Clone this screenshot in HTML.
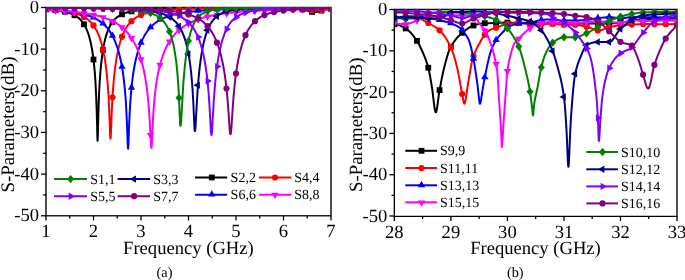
<!DOCTYPE html><html><head><meta charset="utf-8"><style>html,body{margin:0;padding:0;background:#fff;}svg{display:block;will-change:transform;text-rendering:geometricPrecision;}</style></head><body>
<svg width="685" height="280" viewBox="0 0 685 280" font-family='"Liberation Serif", serif' font-size="18.6" fill="#000">
<defs>
<clipPath id="cl"><rect x="46.8" y="6.9" width="283.4" height="208.0"/></clipPath>
<clipPath id="cr"><rect x="395.05" y="8.7" width="281.25" height="206.8"/></clipPath>
</defs>
<path d="M46.0,7.5H331.0V215.7H46.0Z" fill="none" stroke="#222" stroke-width="1.6"/>
<line x1="41.00" y1="7.50" x2="46.0" y2="7.50" stroke="#000" stroke-width="1.3"/>
<text x="39.10" y="13.10" text-anchor="end">0</text>
<line x1="43.20" y1="28.32" x2="46.0" y2="28.32" stroke="#000" stroke-width="1.3"/>
<line x1="41.00" y1="49.15" x2="46.0" y2="49.15" stroke="#000" stroke-width="1.3"/>
<text x="39.10" y="54.75" text-anchor="end">-10</text>
<line x1="43.20" y1="69.97" x2="46.0" y2="69.97" stroke="#000" stroke-width="1.3"/>
<line x1="41.00" y1="90.80" x2="46.0" y2="90.80" stroke="#000" stroke-width="1.3"/>
<text x="39.10" y="96.40" text-anchor="end">-20</text>
<line x1="43.20" y1="111.62" x2="46.0" y2="111.62" stroke="#000" stroke-width="1.3"/>
<line x1="41.00" y1="132.45" x2="46.0" y2="132.45" stroke="#000" stroke-width="1.3"/>
<text x="39.10" y="138.05" text-anchor="end">-30</text>
<line x1="43.20" y1="153.28" x2="46.0" y2="153.28" stroke="#000" stroke-width="1.3"/>
<line x1="41.00" y1="174.10" x2="46.0" y2="174.10" stroke="#000" stroke-width="1.3"/>
<text x="39.10" y="179.70" text-anchor="end">-40</text>
<line x1="43.20" y1="194.93" x2="46.0" y2="194.93" stroke="#000" stroke-width="1.3"/>
<line x1="41.00" y1="215.75" x2="46.0" y2="215.75" stroke="#000" stroke-width="1.3"/>
<text x="39.10" y="221.35" text-anchor="end">-50</text>
<line x1="46.00" y1="215.7" x2="46.00" y2="220.50" stroke="#000" stroke-width="1.3"/>
<text x="46.00" y="237.2" text-anchor="middle">1</text>
<line x1="93.50" y1="215.7" x2="93.50" y2="220.50" stroke="#000" stroke-width="1.3"/>
<text x="93.50" y="237.2" text-anchor="middle">2</text>
<line x1="141.00" y1="215.7" x2="141.00" y2="220.50" stroke="#000" stroke-width="1.3"/>
<text x="141.00" y="237.2" text-anchor="middle">3</text>
<line x1="188.50" y1="215.7" x2="188.50" y2="220.50" stroke="#000" stroke-width="1.3"/>
<text x="188.50" y="237.2" text-anchor="middle">4</text>
<line x1="236.00" y1="215.7" x2="236.00" y2="220.50" stroke="#000" stroke-width="1.3"/>
<text x="236.00" y="237.2" text-anchor="middle">5</text>
<line x1="283.50" y1="215.7" x2="283.50" y2="220.50" stroke="#000" stroke-width="1.3"/>
<text x="283.50" y="237.2" text-anchor="middle">6</text>
<line x1="331.00" y1="215.7" x2="331.00" y2="220.50" stroke="#000" stroke-width="1.3"/>
<text x="331.00" y="237.2" text-anchor="middle">7</text>
<line x1="69.75" y1="215.7" x2="69.75" y2="218.50" stroke="#000" stroke-width="1.3"/>
<line x1="117.25" y1="215.7" x2="117.25" y2="218.50" stroke="#000" stroke-width="1.3"/>
<line x1="164.75" y1="215.7" x2="164.75" y2="218.50" stroke="#000" stroke-width="1.3"/>
<line x1="212.25" y1="215.7" x2="212.25" y2="218.50" stroke="#000" stroke-width="1.3"/>
<line x1="259.75" y1="215.7" x2="259.75" y2="218.50" stroke="#000" stroke-width="1.3"/>
<line x1="307.25" y1="215.7" x2="307.25" y2="218.50" stroke="#000" stroke-width="1.3"/>
<text x="188.40" y="253.9" text-anchor="middle" font-size="18.6">Frequency (GHz)</text>
<text transform="translate(13.60,192.60) rotate(-90)" x="0" y="0" font-size="19">S-Parameters(dB)</text>
<text x="164.50" y="276.6" text-anchor="middle" font-size="14.3">(a)</text>
<path d="M394.35,9.5H677.0V216.3H394.35Z" fill="none" stroke="#000" stroke-width="1.35"/>
<line x1="389.35" y1="9.50" x2="394.35" y2="9.50" stroke="#000" stroke-width="1.3"/>
<text x="387.30" y="15.10" text-anchor="end">0</text>
<line x1="391.55" y1="30.15" x2="394.35" y2="30.15" stroke="#000" stroke-width="1.3"/>
<line x1="389.35" y1="50.80" x2="394.35" y2="50.80" stroke="#000" stroke-width="1.3"/>
<text x="387.30" y="56.40" text-anchor="end">-10</text>
<line x1="391.55" y1="71.45" x2="394.35" y2="71.45" stroke="#000" stroke-width="1.3"/>
<line x1="389.35" y1="92.10" x2="394.35" y2="92.10" stroke="#000" stroke-width="1.3"/>
<text x="387.30" y="97.70" text-anchor="end">-20</text>
<line x1="391.55" y1="112.75" x2="394.35" y2="112.75" stroke="#000" stroke-width="1.3"/>
<line x1="389.35" y1="133.40" x2="394.35" y2="133.40" stroke="#000" stroke-width="1.3"/>
<text x="387.30" y="139.00" text-anchor="end">-30</text>
<line x1="391.55" y1="154.05" x2="394.35" y2="154.05" stroke="#000" stroke-width="1.3"/>
<line x1="389.35" y1="174.70" x2="394.35" y2="174.70" stroke="#000" stroke-width="1.3"/>
<text x="387.30" y="180.30" text-anchor="end">-40</text>
<line x1="391.55" y1="195.35" x2="394.35" y2="195.35" stroke="#000" stroke-width="1.3"/>
<line x1="389.35" y1="216.00" x2="394.35" y2="216.00" stroke="#000" stroke-width="1.3"/>
<text x="387.30" y="221.60" text-anchor="end">-50</text>
<line x1="394.35" y1="216.3" x2="394.35" y2="221.10" stroke="#000" stroke-width="1.3"/>
<text x="394.35" y="237.6" text-anchor="middle">28</text>
<line x1="450.88" y1="216.3" x2="450.88" y2="221.10" stroke="#000" stroke-width="1.3"/>
<text x="450.88" y="237.6" text-anchor="middle">29</text>
<line x1="507.41" y1="216.3" x2="507.41" y2="221.10" stroke="#000" stroke-width="1.3"/>
<text x="507.41" y="237.6" text-anchor="middle">30</text>
<line x1="563.94" y1="216.3" x2="563.94" y2="221.10" stroke="#000" stroke-width="1.3"/>
<text x="563.94" y="237.6" text-anchor="middle">31</text>
<line x1="620.47" y1="216.3" x2="620.47" y2="221.10" stroke="#000" stroke-width="1.3"/>
<text x="620.47" y="237.6" text-anchor="middle">32</text>
<line x1="677.00" y1="216.3" x2="677.00" y2="221.10" stroke="#000" stroke-width="1.3"/>
<text x="677.00" y="237.6" text-anchor="middle">33</text>
<line x1="422.62" y1="216.3" x2="422.62" y2="219.10" stroke="#000" stroke-width="1.3"/>
<line x1="479.14" y1="216.3" x2="479.14" y2="219.10" stroke="#000" stroke-width="1.3"/>
<line x1="535.67" y1="216.3" x2="535.67" y2="219.10" stroke="#000" stroke-width="1.3"/>
<line x1="592.20" y1="216.3" x2="592.20" y2="219.10" stroke="#000" stroke-width="1.3"/>
<line x1="648.74" y1="216.3" x2="648.74" y2="219.10" stroke="#000" stroke-width="1.3"/>
<text x="535.50" y="254.1" text-anchor="middle" font-size="18.6">Frequency (GHz)</text>
<text transform="translate(362.00,191.90) rotate(-90)" x="0" y="0" font-size="18.75">S-Parameters(dB)</text>
<text x="515.30" y="276.6" text-anchor="middle" font-size="14.3">(b)</text>
<g clip-path="url(#cl)"><path d="M46.00,9.33L51.13,9.73L55.59,10.20L59.59,10.74L63.20,11.38L66.42,12.13L69.28,12.97L71.84,13.93L74.21,15.05L76.30,16.28L78.30,17.73L80.10,19.35L81.81,21.23L83.34,23.27L84.76,25.58L86.09,28.18L87.33,31.07L88.47,34.27L89.61,38.10L90.56,41.91L91.50,46.45L92.26,50.75L93.03,55.85L93.69,61.15L94.35,67.54L94.93,74.21L95.40,80.97L96.16,95.40L96.73,111.37L97.39,137.46L97.49,139.90L97.59,140.79L97.68,139.91L97.78,137.49L98.35,114.66L98.73,102.51L99.20,91.06L99.77,80.73L100.44,71.56L101.29,62.53L102.24,54.80L103.38,47.60L104.04,44.14L104.71,41.10L105.47,38.06L106.23,35.38L106.99,33.03L107.84,30.69L108.80,28.43L109.75,26.46L110.79,24.57L111.93,22.79L113.07,21.26L114.30,19.83L115.64,18.51L116.96,17.38L118.48,16.28L120.10,15.28L121.62,14.49L123.24,13.77L124.94,13.11L126.75,12.52L128.75,11.97L130.83,11.48L135.49,10.64L141.00,9.94L147.46,9.38L155.06,8.94L164.28,8.58L174.44,8.33L186.70,8.13L219.28,7.87L260.41,7.83L274.10,7.91L283.88,8.07L289.01,8.23L293.19,8.44L296.80,8.71L299.84,9.05L302.40,9.46L304.78,9.95L311.81,11.89L313.14,12.11L314.38,12.18L315.70,12.10L317.22,11.82L322.64,10.27L325.40,9.62L328.06,9.15L331.00,8.77" fill="none" stroke="#000000" stroke-width="2.0" stroke-linejoin="round"/>
<rect x="43.10" y="6.43" width="5.80" height="5.80" fill="#000000"/>
<rect x="52.60" y="7.28" width="5.80" height="5.80" fill="#000000"/>
<rect x="62.10" y="8.87" width="5.80" height="5.80" fill="#000000"/>
<rect x="71.60" y="12.30" width="5.80" height="5.80" fill="#000000"/>
<rect x="81.10" y="21.40" width="5.80" height="5.80" fill="#000000"/>
<rect x="90.60" y="56.64" width="5.80" height="5.80" fill="#000000"/>
<rect x="100.10" y="46.90" width="5.80" height="5.80" fill="#000000"/>
<rect x="109.60" y="19.10" width="5.80" height="5.80" fill="#000000"/>
<rect x="119.10" y="11.41" width="5.80" height="5.80" fill="#000000"/>
<rect x="128.60" y="8.44" width="5.80" height="5.80" fill="#000000"/>
<rect x="138.10" y="7.04" width="5.80" height="5.80" fill="#000000"/>
<rect x="147.60" y="6.28" width="5.80" height="5.80" fill="#000000"/>
<rect x="157.10" y="5.83" width="5.80" height="5.80" fill="#000000"/>
<rect x="166.60" y="5.54" width="5.80" height="5.80" fill="#000000"/>
<rect x="176.10" y="5.34" width="5.80" height="5.80" fill="#000000"/>
<rect x="185.60" y="5.21" width="5.80" height="5.80" fill="#000000"/>
<rect x="195.10" y="5.11" width="5.80" height="5.80" fill="#000000"/>
<rect x="204.60" y="5.04" width="5.80" height="5.80" fill="#000000"/>
<rect x="214.10" y="4.98" width="5.80" height="5.80" fill="#000000"/>
<rect x="223.60" y="4.95" width="5.80" height="5.80" fill="#000000"/>
<rect x="233.10" y="4.92" width="5.80" height="5.80" fill="#000000"/>
<rect x="242.60" y="4.91" width="5.80" height="5.80" fill="#000000"/>
<rect x="252.10" y="4.92" width="5.80" height="5.80" fill="#000000"/>
<rect x="261.60" y="4.94" width="5.80" height="5.80" fill="#000000"/>
<rect x="271.10" y="5.01" width="5.80" height="5.80" fill="#000000"/>
<rect x="280.60" y="5.16" width="5.80" height="5.80" fill="#000000"/>
<rect x="290.10" y="5.52" width="5.80" height="5.80" fill="#000000"/>
<rect x="299.60" y="6.57" width="5.80" height="5.80" fill="#000000"/>
<rect x="309.10" y="9.03" width="5.80" height="5.80" fill="#000000"/>
<rect x="318.60" y="7.69" width="5.80" height="5.80" fill="#000000"/>
<rect x="328.10" y="5.87" width="5.80" height="5.80" fill="#000000"/>
<path d="M46.00,9.37L52.17,9.78L57.69,10.26L62.53,10.81L66.90,11.45L70.89,12.21L74.40,13.06L77.63,14.06L80.48,15.15L83.15,16.42L85.62,17.88L87.90,19.53L89.99,21.38L91.88,23.41L93.69,25.73L95.40,28.37L96.92,31.17L98.44,34.50L99.77,37.97L101.10,42.08L102.24,46.26L103.28,50.78L104.33,56.14L105.19,61.35L106.04,67.55L106.71,73.31L107.28,79.13L107.84,86.04L108.32,92.95L108.80,101.31L109.18,109.41L110.12,134.65L110.32,137.93L110.41,138.63L110.51,138.66L110.70,137.10L110.89,133.64L111.74,112.27L112.31,100.64L112.88,91.40L113.54,82.74L114.40,73.88L115.44,65.35L116.68,57.41L118.01,50.61L118.77,47.33L119.62,44.04L120.48,41.13L121.34,38.53L122.28,35.95L123.33,33.43L124.38,31.20L125.52,29.05L126.75,27.01L127.98,25.21L129.31,23.51L130.64,22.03L132.17,20.55L133.69,19.26L135.30,18.08L137.01,16.99L138.62,16.11L140.33,15.29L142.14,14.53L144.13,13.81L146.22,13.17L148.41,12.58L150.79,12.04L153.35,11.55L158.95,10.70L165.51,10.01L173.11,9.44L182.04,9.00L198.47,8.50L219.95,8.17L248.35,8.01L273.14,8.06L285.31,8.24L294.52,8.56L301.64,9.01L312.38,9.99L316.66,10.16L318.94,10.11L321.41,9.96L331.00,9.04" fill="none" stroke="#FF0000" stroke-width="2.0" stroke-linejoin="round"/>
<circle cx="46.00" cy="9.37" r="3.10" fill="#FF0000"/>
<circle cx="55.50" cy="10.05" r="3.10" fill="#FF0000"/>
<circle cx="65.00" cy="11.15" r="3.10" fill="#FF0000"/>
<circle cx="74.50" cy="13.09" r="3.10" fill="#FF0000"/>
<circle cx="84.00" cy="16.89" r="3.10" fill="#FF0000"/>
<circle cx="93.50" cy="25.46" r="3.10" fill="#FF0000"/>
<circle cx="103.00" cy="49.47" r="3.10" fill="#FF0000"/>
<circle cx="112.50" cy="97.33" r="3.10" fill="#FF0000"/>
<circle cx="122.00" cy="36.69" r="3.10" fill="#FF0000"/>
<circle cx="131.50" cy="21.17" r="3.10" fill="#FF0000"/>
<circle cx="141.00" cy="15.00" r="3.10" fill="#FF0000"/>
<circle cx="150.50" cy="12.10" r="3.10" fill="#FF0000"/>
<circle cx="160.00" cy="10.57" r="3.10" fill="#FF0000"/>
<circle cx="169.50" cy="9.68" r="3.10" fill="#FF0000"/>
<circle cx="179.00" cy="9.13" r="3.10" fill="#FF0000"/>
<circle cx="188.50" cy="8.76" r="3.10" fill="#FF0000"/>
<circle cx="198.00" cy="8.51" r="3.10" fill="#FF0000"/>
<circle cx="207.50" cy="8.33" r="3.10" fill="#FF0000"/>
<circle cx="217.00" cy="8.21" r="3.10" fill="#FF0000"/>
<circle cx="226.50" cy="8.12" r="3.10" fill="#FF0000"/>
<circle cx="236.00" cy="8.05" r="3.10" fill="#FF0000"/>
<circle cx="245.50" cy="8.01" r="3.10" fill="#FF0000"/>
<circle cx="255.00" cy="8.00" r="3.10" fill="#FF0000"/>
<circle cx="264.50" cy="8.01" r="3.10" fill="#FF0000"/>
<circle cx="274.00" cy="8.07" r="3.10" fill="#FF0000"/>
<circle cx="283.50" cy="8.21" r="3.10" fill="#FF0000"/>
<circle cx="293.00" cy="8.49" r="3.10" fill="#FF0000"/>
<circle cx="302.50" cy="9.09" r="3.10" fill="#FF0000"/>
<circle cx="312.00" cy="9.97" r="3.10" fill="#FF0000"/>
<circle cx="321.50" cy="9.95" r="3.10" fill="#FF0000"/>
<circle cx="331.00" cy="9.04" r="3.10" fill="#FF0000"/>
<path d="M46.00,9.69L53.88,10.15L60.82,10.69L67.00,11.31L72.60,12.04L77.63,12.88L82.19,13.85L86.28,14.94L90.08,16.20L93.59,17.65L96.73,19.25L99.67,21.08L102.34,23.08L104.81,25.32L106.04,26.61L107.18,27.91L109.37,30.76L111.36,33.86L113.26,37.36L115.06,41.32L116.68,45.53L118.20,50.22L119.62,55.47L120.86,60.91L122.00,66.92L122.95,72.91L123.80,79.37L124.56,86.29L125.23,93.65L125.80,101.35L126.27,109.15L126.75,118.72L127.80,145.65L127.98,148.34L128.08,148.69L128.18,148.30L128.37,145.44L129.12,125.27L129.69,112.68L130.26,102.94L131.03,92.87L131.98,83.22L133.02,74.97L134.25,67.24L135.01,63.25L135.78,59.71L136.63,56.16L137.49,52.98L138.44,49.82L139.48,46.72L140.53,43.95L141.67,41.24L142.90,38.62L144.13,36.28L145.46,34.03L146.80,32.02L148.31,29.97L149.83,28.14L151.45,26.42L153.16,24.81L154.96,23.30L156.77,21.97L158.57,20.79L160.38,19.74L162.28,18.75L164.37,17.79L166.56,16.90L168.83,16.09L171.21,15.34L173.77,14.63L176.44,13.99L179.28,13.39L185.56,12.32L192.59,11.43L200.56,10.68L209.50,10.06L219.75,9.55L231.63,9.13L245.50,8.78L261.65,8.50L280.84,8.27L331.00,7.94" fill="none" stroke="#0000FF" stroke-width="2.0" stroke-linejoin="round"/>
<path d="M46.00,5.19L49.70,11.59L42.30,11.59Z" fill="#0000FF"/>
<path d="M55.50,5.76L59.20,12.16L51.80,12.16Z" fill="#0000FF"/>
<path d="M65.00,6.59L68.70,12.99L61.30,12.99Z" fill="#0000FF"/>
<path d="M74.50,7.84L78.20,14.24L70.80,14.24Z" fill="#0000FF"/>
<path d="M84.00,9.80L87.70,16.20L80.30,16.20Z" fill="#0000FF"/>
<path d="M93.50,13.11L97.20,19.51L89.80,19.51Z" fill="#0000FF"/>
<path d="M103.00,19.15L106.70,25.55L99.30,25.55Z" fill="#0000FF"/>
<path d="M112.50,31.39L116.20,37.79L108.80,37.79Z" fill="#0000FF"/>
<path d="M122.00,62.42L125.70,68.82L118.30,68.82Z" fill="#0000FF"/>
<path d="M131.50,83.23L135.20,89.63L127.80,89.63Z" fill="#0000FF"/>
<path d="M141.00,38.28L144.70,44.68L137.30,44.68Z" fill="#0000FF"/>
<path d="M150.50,22.91L154.20,29.31L146.80,29.31Z" fill="#0000FF"/>
<path d="M160.00,15.45L163.70,21.85L156.30,21.85Z" fill="#0000FF"/>
<path d="M169.50,11.37L173.20,17.77L165.80,17.77Z" fill="#0000FF"/>
<path d="M179.00,8.95L182.70,15.35L175.30,15.35Z" fill="#0000FF"/>
<path d="M188.50,7.42L192.20,13.82L184.80,13.82Z" fill="#0000FF"/>
<path d="M198.00,6.39L201.70,12.79L194.30,12.79Z" fill="#0000FF"/>
<path d="M207.50,5.68L211.20,12.08L203.80,12.08Z" fill="#0000FF"/>
<path d="M217.00,5.17L220.70,11.57L213.30,11.57Z" fill="#0000FF"/>
<path d="M226.50,4.79L230.20,11.19L222.80,11.19Z" fill="#0000FF"/>
<path d="M236.00,4.50L239.70,10.90L232.30,10.90Z" fill="#0000FF"/>
<path d="M245.50,4.28L249.20,10.68L241.80,10.68Z" fill="#0000FF"/>
<path d="M255.00,4.10L258.70,10.50L251.30,10.50Z" fill="#0000FF"/>
<path d="M264.50,3.96L268.20,10.36L260.80,10.36Z" fill="#0000FF"/>
<path d="M274.00,3.84L277.70,10.24L270.30,10.24Z" fill="#0000FF"/>
<path d="M283.50,3.74L287.20,10.14L279.80,10.14Z" fill="#0000FF"/>
<path d="M293.00,3.66L296.70,10.06L289.30,10.06Z" fill="#0000FF"/>
<path d="M302.50,3.59L306.20,9.99L298.80,9.99Z" fill="#0000FF"/>
<path d="M312.00,3.53L315.70,9.93L308.30,9.93Z" fill="#0000FF"/>
<path d="M321.50,3.48L325.20,9.88L317.80,9.88Z" fill="#0000FF"/>
<path d="M331.00,3.44L334.70,9.84L327.30,9.84Z" fill="#0000FF"/>
<path d="M46.00,9.95L55.78,10.45L64.53,11.03L72.31,11.70L79.34,12.47L85.71,13.36L91.50,14.37L96.83,15.53L101.67,16.84L106.13,18.33L110.22,19.99L112.12,20.88L114.02,21.86L115.82,22.89L117.54,23.96L119.24,25.13L120.86,26.34L122.38,27.58L123.90,28.94L125.33,30.33L126.75,31.84L128.08,33.38L129.31,34.93L130.55,36.61L131.79,38.43L133.02,40.42L134.16,42.42L136.25,46.57L138.25,51.24L140.05,56.24L141.67,61.53L143.19,67.46L144.51,73.68L145.65,80.07L146.61,86.43L147.46,93.26L148.22,100.58L148.88,108.31L149.55,117.77L150.98,143.82L151.26,147.18L151.36,147.69L151.45,147.86L151.55,147.51L151.64,146.57L151.83,143.45L152.69,124.74L153.25,114.51L153.92,105.10L154.68,96.61L155.63,88.25L156.77,80.32L158.10,72.96L159.62,66.21L160.48,62.96L161.43,59.72L162.47,56.53L163.51,53.66L164.66,50.83L165.80,48.27L167.03,45.76L168.36,43.32L169.78,40.95L171.21,38.81L172.73,36.75L174.34,34.77L176.06,32.87L177.77,31.16L179.57,29.53L181.47,27.98L183.37,26.58L185.37,25.25L187.46,23.99L189.55,22.86L191.83,21.74L194.20,20.70L196.67,19.72L199.23,18.82L201.90,17.98L204.75,17.17L207.79,16.40L210.92,15.70L217.66,14.44L225.17,13.35L233.43,12.41L242.75,11.60L253.10,10.91L264.88,10.31L278.27,9.81L293.48,9.38L310.86,9.03L331.00,8.73" fill="none" stroke="#FF00FF" stroke-width="2.0" stroke-linejoin="round"/>
<path d="M46.00,14.45L49.70,8.05L42.30,8.05Z" fill="#FF00FF"/>
<path d="M55.50,14.93L59.20,8.53L51.80,8.53Z" fill="#FF00FF"/>
<path d="M65.00,15.57L68.70,9.17L61.30,9.17Z" fill="#FF00FF"/>
<path d="M74.50,16.42L78.20,10.02L70.80,10.02Z" fill="#FF00FF"/>
<path d="M84.00,17.60L87.70,11.20L80.30,11.20Z" fill="#FF00FF"/>
<path d="M93.50,19.27L97.20,12.87L89.80,12.87Z" fill="#FF00FF"/>
<path d="M103.00,21.75L106.70,15.35L99.30,15.35Z" fill="#FF00FF"/>
<path d="M112.50,25.57L116.20,19.17L108.80,19.17Z" fill="#FF00FF"/>
<path d="M122.00,31.76L125.70,25.36L118.30,25.36Z" fill="#FF00FF"/>
<path d="M131.50,42.50L135.20,36.10L127.80,36.10Z" fill="#FF00FF"/>
<path d="M141.00,63.74L144.70,57.34L137.30,57.34Z" fill="#FF00FF"/>
<path d="M150.50,139.51L154.20,133.11L146.80,133.11Z" fill="#FF00FF"/>
<path d="M160.00,69.22L163.70,62.82L156.30,62.82Z" fill="#FF00FF"/>
<path d="M169.50,45.91L173.20,39.51L165.80,39.51Z" fill="#FF00FF"/>
<path d="M179.00,34.53L182.70,28.13L175.30,28.13Z" fill="#FF00FF"/>
<path d="M188.50,27.91L192.20,21.51L184.80,21.51Z" fill="#FF00FF"/>
<path d="M198.00,23.74L201.70,17.34L194.30,17.34Z" fill="#FF00FF"/>
<path d="M207.50,20.97L211.20,14.57L203.80,14.57Z" fill="#FF00FF"/>
<path d="M217.00,19.05L220.70,12.65L213.30,12.65Z" fill="#FF00FF"/>
<path d="M226.50,17.68L230.20,11.28L222.80,11.28Z" fill="#FF00FF"/>
<path d="M236.00,16.66L239.70,10.26L232.30,10.26Z" fill="#FF00FF"/>
<path d="M245.50,15.89L249.20,9.49L241.80,9.49Z" fill="#FF00FF"/>
<path d="M255.00,15.30L258.70,8.90L251.30,8.90Z" fill="#FF00FF"/>
<path d="M264.50,14.83L268.20,8.43L260.80,8.43Z" fill="#FF00FF"/>
<path d="M274.00,14.45L277.70,8.05L270.30,8.05Z" fill="#FF00FF"/>
<path d="M283.50,14.15L287.20,7.75L279.80,7.75Z" fill="#FF00FF"/>
<path d="M293.00,13.90L296.70,7.50L289.30,7.50Z" fill="#FF00FF"/>
<path d="M302.50,13.69L306.20,7.29L298.80,7.29Z" fill="#FF00FF"/>
<path d="M312.00,13.51L315.70,7.11L308.30,7.11Z" fill="#FF00FF"/>
<path d="M321.50,13.36L325.20,6.96L317.80,6.96Z" fill="#FF00FF"/>
<path d="M331.00,13.23L334.70,6.83L327.30,6.83Z" fill="#FF00FF"/>
<path d="M46.00,7.82L83.34,8.07L109.27,8.47L119.34,8.75L127.98,9.09L135.39,9.51L141.86,10.02L147.56,10.63L152.59,11.37L157.06,12.25L160.95,13.28L164.47,14.49L166.08,15.18L167.60,15.91L169.02,16.68L170.45,17.56L171.78,18.48L173.01,19.45L174.34,20.63L175.58,21.86L176.81,23.26L177.96,24.73L179.09,26.38L180.14,28.08L181.09,29.82L182.04,31.76L182.99,33.93L183.84,36.12L184.70,38.56L185.46,40.98L186.89,46.28L188.22,52.41L189.36,58.91L190.31,65.57L191.16,72.93L191.92,81.04L192.59,89.89L193.16,99.36L194.48,128.14L194.67,130.47L194.77,130.94L194.87,130.99L195.05,130.66L195.24,129.61L195.53,126.48L197.24,95.98L197.91,86.37L198.57,78.31L199.33,70.56L200.19,63.25L201.14,56.44L202.18,50.18L203.41,44.04L204.75,38.60L206.17,33.82L206.93,31.63L207.79,29.42L208.64,27.46L209.50,25.70L210.44,23.96L211.40,22.42L212.35,21.06L213.39,19.73L214.53,18.46L215.67,17.36L217.76,15.67L218.90,14.91L220.14,14.18L222.70,12.95L225.65,11.88L228.88,11.00L232.58,10.27L236.85,9.66L241.70,9.17L247.12,8.78L253.48,8.47L260.99,8.23L270.01,8.03L293.95,7.77L331.00,7.62" fill="none" stroke="#000080" stroke-width="2.0" stroke-linejoin="round"/>
<path d="M41.50,7.82L47.90,4.12L47.90,11.52Z" fill="#000080"/>
<path d="M51.00,7.86L57.40,4.16L57.40,11.56Z" fill="#000080"/>
<path d="M60.50,7.92L66.90,4.22L66.90,11.62Z" fill="#000080"/>
<path d="M70.00,7.99L76.40,4.29L76.40,11.69Z" fill="#000080"/>
<path d="M79.50,8.08L85.90,4.38L85.90,11.78Z" fill="#000080"/>
<path d="M89.00,8.19L95.40,4.49L95.40,11.89Z" fill="#000080"/>
<path d="M98.50,8.34L104.90,4.64L104.90,12.04Z" fill="#000080"/>
<path d="M108.00,8.55L114.40,4.85L114.40,12.25Z" fill="#000080"/>
<path d="M117.50,8.84L123.90,5.14L123.90,12.54Z" fill="#000080"/>
<path d="M127.00,9.27L133.40,5.57L133.40,12.97Z" fill="#000080"/>
<path d="M136.50,9.94L142.90,6.24L142.90,13.64Z" fill="#000080"/>
<path d="M146.00,11.03L152.40,7.33L152.40,14.73Z" fill="#000080"/>
<path d="M155.50,13.00L161.90,9.30L161.90,16.70Z" fill="#000080"/>
<path d="M165.00,16.96L171.40,13.26L171.40,20.66Z" fill="#000080"/>
<path d="M174.50,26.23L180.90,22.53L180.90,29.93Z" fill="#000080"/>
<path d="M184.00,53.91L190.40,50.21L190.40,57.61Z" fill="#000080"/>
<path d="M193.50,85.13L199.90,81.43L199.90,88.83Z" fill="#000080"/>
<path d="M203.00,30.13L209.40,26.43L209.40,33.83Z" fill="#000080"/>
<path d="M212.50,16.24L218.90,12.54L218.90,19.94Z" fill="#000080"/>
<path d="M222.00,11.62L228.40,7.92L228.40,15.32Z" fill="#000080"/>
<path d="M231.50,9.76L237.90,6.06L237.90,13.46Z" fill="#000080"/>
<path d="M241.00,8.88L247.40,5.18L247.40,12.58Z" fill="#000080"/>
<path d="M250.50,8.41L256.90,4.71L256.90,12.11Z" fill="#000080"/>
<path d="M260.00,8.14L266.40,4.44L266.40,11.84Z" fill="#000080"/>
<path d="M269.50,7.97L275.90,4.27L275.90,11.67Z" fill="#000080"/>
<path d="M279.00,7.85L285.40,4.15L285.40,11.55Z" fill="#000080"/>
<path d="M288.50,7.77L294.90,4.07L294.90,11.47Z" fill="#000080"/>
<path d="M298.00,7.72L304.40,4.02L304.40,11.42Z" fill="#000080"/>
<path d="M307.50,7.68L313.90,3.98L313.90,11.38Z" fill="#000080"/>
<path d="M317.00,7.65L323.40,3.95L323.40,11.35Z" fill="#000080"/>
<path d="M326.50,7.62L332.90,3.92L332.90,11.32Z" fill="#000080"/>
<path d="M46.00,7.81L79.82,8.05L103.28,8.43L112.50,8.69L120.29,9.02L127.03,9.41L132.83,9.88L138.06,10.46L142.62,11.16L146.61,11.98L150.12,12.95L153.25,14.08L156.11,15.43L157.44,16.19L158.67,16.99L159.81,17.82L160.95,18.76L162.19,19.92L163.32,21.13L164.37,22.40L165.42,23.83L166.37,25.29L167.31,26.95L168.17,28.62L169.02,30.49L170.55,34.42L171.97,38.99L173.30,44.31L174.44,49.97L175.48,56.39L176.34,62.88L177.10,69.98L177.77,77.64L178.34,85.75L178.81,94.04L180.04,122.39L180.23,125.13L180.33,125.71L180.43,125.78L180.62,125.55L180.81,124.72L181.19,120.81L182.90,90.49L183.56,80.80L184.32,71.59L185.08,63.91L185.94,56.67L186.79,50.58L187.74,44.85L188.88,39.14L190.21,33.73L191.54,29.36L192.30,27.25L193.06,25.38L193.82,23.72L194.67,22.06L195.53,20.60L196.48,19.19L197.43,17.95L198.38,16.88L199.43,15.85L200.56,14.89L202.56,13.52L204.84,12.33L207.31,11.37L210.16,10.55L213.39,9.88L217.10,9.33L221.47,8.89L226.59,8.53L232.30,8.27L239.04,8.06L257.28,7.78L284.93,7.63L331.00,7.55" fill="none" stroke="#008000" stroke-width="2.0" stroke-linejoin="round"/>
<path d="M46.00,3.61L49.50,7.81L46.00,12.01L42.50,7.81Z" fill="#008000"/>
<path d="M55.50,3.65L59.00,7.85L55.50,12.05L52.00,7.85Z" fill="#008000"/>
<path d="M65.00,3.72L68.50,7.92L65.00,12.12L61.50,7.92Z" fill="#008000"/>
<path d="M74.50,3.79L78.00,7.99L74.50,12.19L71.00,7.99Z" fill="#008000"/>
<path d="M84.00,3.90L87.50,8.10L84.00,12.30L80.50,8.10Z" fill="#008000"/>
<path d="M93.50,4.03L97.00,8.23L93.50,12.43L90.00,8.23Z" fill="#008000"/>
<path d="M103.00,4.22L106.50,8.42L103.00,12.62L99.50,8.42Z" fill="#008000"/>
<path d="M112.50,4.49L116.00,8.69L112.50,12.89L109.00,8.69Z" fill="#008000"/>
<path d="M122.00,4.90L125.50,9.10L122.00,13.30L118.50,9.10Z" fill="#008000"/>
<path d="M131.50,5.56L135.00,9.76L131.50,13.96L128.00,9.76Z" fill="#008000"/>
<path d="M141.00,6.69L144.50,10.89L141.00,15.09L137.50,10.89Z" fill="#008000"/>
<path d="M150.50,8.87L154.00,13.07L150.50,17.27L147.00,13.07Z" fill="#008000"/>
<path d="M160.00,13.77L163.50,17.97L160.00,22.17L156.50,17.97Z" fill="#008000"/>
<path d="M169.50,27.43L173.00,31.63L169.50,35.83L166.00,31.63Z" fill="#008000"/>
<path d="M179.00,93.65L182.50,97.85L179.00,102.05L175.50,97.85Z" fill="#008000"/>
<path d="M188.50,36.72L192.00,40.92L188.50,45.12L185.00,40.92Z" fill="#008000"/>
<path d="M198.00,13.09L201.50,17.29L198.00,21.49L194.50,17.29Z" fill="#008000"/>
<path d="M207.50,7.11L211.00,11.31L207.50,15.51L204.00,11.31Z" fill="#008000"/>
<path d="M217.00,5.14L220.50,9.34L217.00,13.54L213.50,9.34Z" fill="#008000"/>
<path d="M226.50,4.34L230.00,8.54L226.50,12.74L223.00,8.54Z" fill="#008000"/>
<path d="M236.00,3.94L239.50,8.14L236.00,12.34L232.50,8.14Z" fill="#008000"/>
<path d="M245.50,3.73L249.00,7.93L245.50,12.13L242.00,7.93Z" fill="#008000"/>
<path d="M255.00,3.60L258.50,7.80L255.00,12.00L251.50,7.80Z" fill="#008000"/>
<path d="M264.50,3.52L268.00,7.72L264.50,11.92L261.00,7.72Z" fill="#008000"/>
<path d="M274.00,3.47L277.50,7.67L274.00,11.87L270.50,7.67Z" fill="#008000"/>
<path d="M283.50,3.43L287.00,7.63L283.50,11.83L280.00,7.63Z" fill="#008000"/>
<path d="M293.00,3.40L296.50,7.60L293.00,11.80L289.50,7.60Z" fill="#008000"/>
<path d="M302.50,3.38L306.00,7.58L302.50,11.78L299.00,7.58Z" fill="#008000"/>
<path d="M312.00,3.37L315.50,7.57L312.00,11.77L308.50,7.57Z" fill="#008000"/>
<path d="M321.50,3.36L325.00,7.56L321.50,11.76L318.00,7.56Z" fill="#008000"/>
<path d="M331.00,3.35L334.50,7.55L331.00,11.75L327.50,7.55Z" fill="#008000"/>
<path d="M46.00,7.82L86.85,8.08L102.24,8.27L115.16,8.51L126.18,8.80L135.68,9.16L143.85,9.60L150.88,10.13L157.25,10.78L162.85,11.57L167.79,12.50L172.16,13.59L174.25,14.23L176.15,14.90L177.96,15.62L179.66,16.39L181.28,17.21L182.90,18.14L184.32,19.06L185.75,20.09L187.27,21.34L188.69,22.65L190.12,24.14L191.45,25.70L192.68,27.33L193.91,29.15L195.05,31.03L196.19,33.14L197.24,35.29L198.28,37.68L199.23,40.11L200.19,42.80L201.04,45.48L201.90,48.46L203.41,54.65L204.75,61.27L205.88,68.20L206.93,75.98L207.79,83.78L208.55,92.26L209.21,101.35L209.78,110.74L210.92,131.68L211.20,134.46L211.30,134.84L211.40,134.95L211.49,134.91L211.59,134.74L211.78,133.83L212.06,130.92L213.77,101.15L214.44,91.67L215.20,82.67L215.96,75.16L216.81,68.05L217.76,61.38L218.80,55.19L220.04,49.05L221.37,43.54L222.89,38.31L224.50,33.75L226.22,29.78L227.16,27.90L228.11,26.20L229.16,24.53L230.21,23.04L231.25,21.71L232.39,20.42L234.48,18.41L235.62,17.48L236.85,16.59L238.09,15.80L239.42,15.04L242.27,13.70L245.41,12.56L248.92,11.60L252.91,10.78L257.38,10.11L262.32,9.57L268.01,9.12L274.66,8.75L282.36,8.45L291.38,8.22L302.21,8.03L331.00,7.77" fill="none" stroke="#8000FF" stroke-width="2.0" stroke-linejoin="round"/>
<path d="M50.50,7.82L44.10,4.12L44.10,11.52Z" fill="#8000FF"/>
<path d="M60.00,7.86L53.60,4.16L53.60,11.56Z" fill="#8000FF"/>
<path d="M69.50,7.91L63.10,4.21L63.10,11.61Z" fill="#8000FF"/>
<path d="M79.00,7.97L72.60,4.27L72.60,11.67Z" fill="#8000FF"/>
<path d="M88.50,8.05L82.10,4.35L82.10,11.75Z" fill="#8000FF"/>
<path d="M98.00,8.15L91.60,4.45L91.60,11.85Z" fill="#8000FF"/>
<path d="M107.50,8.28L101.10,4.58L101.10,11.98Z" fill="#8000FF"/>
<path d="M117.00,8.45L110.60,4.75L110.60,12.15Z" fill="#8000FF"/>
<path d="M126.50,8.67L120.10,4.97L120.10,12.37Z" fill="#8000FF"/>
<path d="M136.00,8.99L129.60,5.29L129.60,12.69Z" fill="#8000FF"/>
<path d="M145.50,9.43L139.10,5.73L139.10,13.13Z" fill="#8000FF"/>
<path d="M155.00,10.09L148.60,6.39L148.60,13.79Z" fill="#8000FF"/>
<path d="M164.50,11.14L158.10,7.44L158.10,14.84Z" fill="#8000FF"/>
<path d="M174.00,12.89L167.60,9.19L167.60,16.59Z" fill="#8000FF"/>
<path d="M183.50,16.08L177.10,12.38L177.10,19.78Z" fill="#8000FF"/>
<path d="M193.00,22.47L186.60,18.77L186.60,26.17Z" fill="#8000FF"/>
<path d="M202.50,37.00L196.10,33.30L196.10,40.70Z" fill="#8000FF"/>
<path d="M212.00,81.00L205.60,77.30L205.60,84.70Z" fill="#8000FF"/>
<path d="M221.50,66.62L215.10,62.92L215.10,70.32Z" fill="#8000FF"/>
<path d="M231.00,29.20L224.60,25.50L224.60,32.90Z" fill="#8000FF"/>
<path d="M240.50,17.20L234.10,13.50L234.10,20.90Z" fill="#8000FF"/>
<path d="M250.00,12.53L243.60,8.83L243.60,16.23Z" fill="#8000FF"/>
<path d="M259.50,10.44L253.10,6.74L253.10,14.14Z" fill="#8000FF"/>
<path d="M269.00,9.38L262.60,5.68L262.60,13.08Z" fill="#8000FF"/>
<path d="M278.50,8.78L272.10,5.08L272.10,12.48Z" fill="#8000FF"/>
<path d="M288.00,8.42L281.60,4.72L281.60,12.12Z" fill="#8000FF"/>
<path d="M297.50,8.18L291.10,4.48L291.10,11.88Z" fill="#8000FF"/>
<path d="M307.00,8.03L300.60,4.33L300.60,11.73Z" fill="#8000FF"/>
<path d="M316.50,7.91L310.10,4.21L310.10,11.61Z" fill="#8000FF"/>
<path d="M326.00,7.83L319.60,4.13L319.60,11.53Z" fill="#8000FF"/>
<path d="M335.50,7.77L329.10,4.07L329.10,11.47Z" fill="#8000FF"/>
<path d="M46.00,7.79L91.31,8.05L108.32,8.23L122.57,8.47L134.73,8.75L145.18,9.11L154.20,9.55L162.00,10.08L169.02,10.73L175.20,11.52L180.71,12.45L185.56,13.55L187.84,14.18L189.93,14.84L191.92,15.55L193.82,16.32L195.63,17.14L197.43,18.07L199.04,19.01L200.66,20.05L202.37,21.30L204.08,22.71L205.60,24.13L207.12,25.72L208.55,27.39L209.88,29.13L211.20,31.07L212.44,33.07L213.68,35.30L214.82,37.58L215.96,40.11L217.00,42.68L217.95,45.25L218.90,48.08L219.85,51.21L220.71,54.32L222.22,60.70L223.55,67.42L224.79,74.96L225.84,82.70L226.78,91.24L227.64,100.58L228.30,109.22L229.73,129.75L230.11,133.11L230.30,133.90L230.39,134.07L230.49,134.12L230.68,133.94L230.87,133.24L231.25,129.98L233.15,101.76L233.82,93.53L234.58,85.54L235.34,78.75L236.19,72.21L237.14,65.99L238.19,60.14L239.42,54.25L240.85,48.52L242.27,43.68L243.89,39.05L245.59,34.93L247.50,31.10L248.45,29.44L249.49,27.77L250.53,26.26L251.58,24.88L253.76,22.40L256.04,20.26L258.51,18.37L261.18,16.72L264.12,15.25L267.35,13.97L270.87,12.89L274.86,11.93L279.13,11.14L283.98,10.47L289.39,9.90L295.57,9.42L302.59,9.02L310.67,8.69L320.07,8.43L331.00,8.21" fill="none" stroke="#800080" stroke-width="2.0" stroke-linejoin="round"/>
<circle cx="46.00" cy="7.79" r="3.10" fill="#800080"/>
<circle cx="55.50" cy="7.83" r="3.10" fill="#800080"/>
<circle cx="65.00" cy="7.87" r="3.10" fill="#800080"/>
<circle cx="74.50" cy="7.93" r="3.10" fill="#800080"/>
<circle cx="84.00" cy="7.99" r="3.10" fill="#800080"/>
<circle cx="93.50" cy="8.07" r="3.10" fill="#800080"/>
<circle cx="103.00" cy="8.17" r="3.10" fill="#800080"/>
<circle cx="112.50" cy="8.29" r="3.10" fill="#800080"/>
<circle cx="122.00" cy="8.45" r="3.10" fill="#800080"/>
<circle cx="131.50" cy="8.67" r="3.10" fill="#800080"/>
<circle cx="141.00" cy="8.95" r="3.10" fill="#800080"/>
<circle cx="150.50" cy="9.35" r="3.10" fill="#800080"/>
<circle cx="160.00" cy="9.93" r="3.10" fill="#800080"/>
<circle cx="169.50" cy="10.78" r="3.10" fill="#800080"/>
<circle cx="179.00" cy="12.13" r="3.10" fill="#800080"/>
<circle cx="188.50" cy="14.38" r="3.10" fill="#800080"/>
<circle cx="198.00" cy="18.39" r="3.10" fill="#800080"/>
<circle cx="207.50" cy="26.15" r="3.10" fill="#800080"/>
<circle cx="217.00" cy="42.68" r="3.10" fill="#800080"/>
<circle cx="226.50" cy="88.50" r="3.10" fill="#800080"/>
<circle cx="236.00" cy="73.58" r="3.10" fill="#800080"/>
<circle cx="245.50" cy="35.14" r="3.10" fill="#800080"/>
<circle cx="255.00" cy="21.19" r="3.10" fill="#800080"/>
<circle cx="264.50" cy="15.08" r="3.10" fill="#800080"/>
<circle cx="274.00" cy="12.11" r="3.10" fill="#800080"/>
<circle cx="283.50" cy="10.52" r="3.10" fill="#800080"/>
<circle cx="293.00" cy="9.60" r="3.10" fill="#800080"/>
<circle cx="302.50" cy="9.03" r="3.10" fill="#800080"/>
<circle cx="312.00" cy="8.65" r="3.10" fill="#800080"/>
<circle cx="321.50" cy="8.39" r="3.10" fill="#800080"/>
<circle cx="331.00" cy="8.21" r="3.10" fill="#800080"/></g>
<g clip-path="url(#cr)"><path d="M394.35,24.20L395.67,24.30L397.18,24.59L398.88,25.12L400.57,25.80L402.84,26.90L405.85,28.54L407.17,29.43L408.49,30.51L410.19,32.16L411.89,34.07L413.77,36.42L416.03,39.50L417.17,41.14L418.11,42.70L419.24,44.80L420.56,47.49L423.39,53.75L425.46,58.92L426.41,61.59L427.35,64.55L428.29,67.82L428.86,70.04L429.99,75.68L432.06,87.96L432.63,92.23L433.95,103.43L434.70,108.78L435.27,111.40L435.46,111.91L435.64,112.22L435.83,112.30L436.02,112.14L436.40,111.21L436.96,108.54L437.53,104.79L438.85,94.67L439.42,90.97L441.49,79.84L443.00,72.45L444.70,65.47L446.77,57.77L448.28,52.90L449.60,49.40L450.35,47.79L451.29,46.06L452.43,44.15L453.75,42.11L456.01,39.07L457.33,37.52L458.65,36.10L460.16,34.63L461.85,33.11L464.31,31.07L466.38,29.46L468.08,28.26L469.59,27.31L471.09,26.49L472.60,25.82L475.05,25.03L478.45,24.14L481.09,23.61L483.35,23.31L486.56,23.16L496.74,22.98L506.17,22.61L512.95,22.65L534.26,23.05L574.24,23.42L588.38,23.50L610.82,23.47L613.46,23.32L616.28,23.07L625.71,21.91L628.54,21.45L636.08,19.99L638.35,19.66L640.42,19.47L647.21,19.04L653.05,18.83L677.00,18.70" fill="none" stroke="#000000" stroke-width="2.0" stroke-linejoin="round"/>
<rect x="391.45" y="21.30" width="5.80" height="5.80" fill="#000000"/>
<rect x="402.76" y="25.53" width="5.80" height="5.80" fill="#000000"/>
<rect x="414.06" y="37.93" width="5.80" height="5.80" fill="#000000"/>
<rect x="425.37" y="64.84" width="5.80" height="5.80" fill="#000000"/>
<rect x="436.67" y="87.20" width="5.80" height="5.80" fill="#000000"/>
<rect x="447.98" y="43.91" width="5.80" height="5.80" fill="#000000"/>
<rect x="459.29" y="29.93" width="5.80" height="5.80" fill="#000000"/>
<rect x="470.59" y="22.60" width="5.80" height="5.80" fill="#000000"/>
<rect x="481.90" y="20.31" width="5.80" height="5.80" fill="#000000"/>
<rect x="493.20" y="20.10" width="5.80" height="5.80" fill="#000000"/>
<rect x="504.51" y="19.70" width="5.80" height="5.80" fill="#000000"/>
<rect x="515.82" y="19.86" width="5.80" height="5.80" fill="#000000"/>
<rect x="527.12" y="20.10" width="5.80" height="5.80" fill="#000000"/>
<rect x="538.43" y="20.23" width="5.80" height="5.80" fill="#000000"/>
<rect x="549.73" y="20.34" width="5.80" height="5.80" fill="#000000"/>
<rect x="561.04" y="20.43" width="5.80" height="5.80" fill="#000000"/>
<rect x="572.35" y="20.53" width="5.80" height="5.80" fill="#000000"/>
<rect x="583.65" y="20.60" width="5.80" height="5.80" fill="#000000"/>
<rect x="594.96" y="20.60" width="5.80" height="5.80" fill="#000000"/>
<rect x="606.26" y="20.60" width="5.80" height="5.80" fill="#000000"/>
<rect x="617.57" y="19.67" width="5.80" height="5.80" fill="#000000"/>
<rect x="628.88" y="17.91" width="5.80" height="5.80" fill="#000000"/>
<rect x="640.18" y="16.39" width="5.80" height="5.80" fill="#000000"/>
<rect x="651.49" y="15.91" width="5.80" height="5.80" fill="#000000"/>
<rect x="662.79" y="15.83" width="5.80" height="5.80" fill="#000000"/>
<rect x="674.10" y="15.80" width="5.80" height="5.80" fill="#000000"/>
<path d="M394.35,18.20L417.17,18.41L418.67,18.63L421.13,19.34L422.63,19.91L424.52,20.84L432.82,25.50L435.46,27.11L437.53,28.58L439.42,30.13L440.92,31.60L442.43,33.31L444.13,35.53L445.83,38.06L447.52,40.91L449.03,43.71L450.54,46.75L451.48,48.85L452.61,51.83L453.75,55.27L455.82,62.53L457.14,67.67L457.71,70.15L458.84,75.85L461.10,88.37L462.23,94.21L463.36,100.84L463.93,103.22L464.12,103.61L464.31,103.75L464.49,103.65L464.87,102.93L465.25,101.61L465.63,99.80L466.19,96.37L468.08,83.26L470.72,68.09L471.66,63.04L472.22,60.40L472.79,58.19L474.11,54.32L475.24,51.57L476.56,48.83L479.58,43.30L482.03,38.58L483.35,36.43L484.48,35.01L485.80,33.49L486.93,32.34L488.06,31.33L489.01,30.62L489.95,30.03L491.27,29.37L492.59,28.84L496.93,27.34L502.96,25.01L505.79,24.14L507.49,23.80L512.20,23.14L515.03,22.86L517.67,22.72L519.36,22.71L520.87,22.84L522.57,23.12L527.10,24.03L528.42,24.21L529.55,24.29L541.99,24.29L548.21,23.85L550.48,23.80L553.68,23.95L560.47,24.58L563.30,24.76L575.18,24.80L577.44,24.93L579.70,25.24L582.15,25.74L590.07,27.82L591.58,28.34L595.54,30.03L596.86,30.39L597.99,30.50L599.69,30.36L601.39,29.97L603.08,29.43L607.23,27.90L609.12,27.34L616.10,25.73L618.36,25.34L620.24,25.12L623.64,24.92L631.93,24.59L639.85,24.15L643.44,24.02L647.58,24.02L660.22,24.30L668.89,24.22L677.00,24.00" fill="none" stroke="#FF0000" stroke-width="2.0" stroke-linejoin="round"/>
<circle cx="394.35" cy="18.20" r="3.10" fill="#FF0000"/>
<circle cx="405.66" cy="18.30" r="3.10" fill="#FF0000"/>
<circle cx="416.96" cy="18.40" r="3.10" fill="#FF0000"/>
<circle cx="428.27" cy="22.98" r="3.10" fill="#FF0000"/>
<circle cx="439.57" cy="30.28" r="3.10" fill="#FF0000"/>
<circle cx="450.88" cy="47.47" r="3.10" fill="#FF0000"/>
<circle cx="462.19" cy="93.98" r="3.10" fill="#FF0000"/>
<circle cx="473.49" cy="56.02" r="3.10" fill="#FF0000"/>
<circle cx="484.80" cy="34.63" r="3.10" fill="#FF0000"/>
<circle cx="496.10" cy="27.64" r="3.10" fill="#FF0000"/>
<circle cx="507.41" cy="23.81" r="3.10" fill="#FF0000"/>
<circle cx="518.72" cy="22.70" r="3.10" fill="#FF0000"/>
<circle cx="530.02" cy="24.30" r="3.10" fill="#FF0000"/>
<circle cx="541.33" cy="24.30" r="3.10" fill="#FF0000"/>
<circle cx="552.63" cy="23.88" r="3.10" fill="#FF0000"/>
<circle cx="563.94" cy="24.79" r="3.10" fill="#FF0000"/>
<circle cx="575.25" cy="24.80" r="3.10" fill="#FF0000"/>
<circle cx="586.55" cy="26.87" r="3.10" fill="#FF0000"/>
<circle cx="597.86" cy="30.50" r="3.10" fill="#FF0000"/>
<circle cx="609.16" cy="27.33" r="3.10" fill="#FF0000"/>
<circle cx="620.47" cy="25.10" r="3.10" fill="#FF0000"/>
<circle cx="631.78" cy="24.60" r="3.10" fill="#FF0000"/>
<circle cx="643.08" cy="24.02" r="3.10" fill="#FF0000"/>
<circle cx="654.39" cy="24.21" r="3.10" fill="#FF0000"/>
<circle cx="665.69" cy="24.27" r="3.10" fill="#FF0000"/>
<circle cx="677.00" cy="24.00" r="3.10" fill="#FF0000"/>
<path d="M394.35,19.78L397.56,18.24L399.82,17.31L401.89,16.66L403.97,16.28L405.10,16.20L408.11,16.21L416.98,16.40L419.05,16.53L421.50,16.82L424.52,17.33L438.10,19.89L444.13,21.26L448.28,22.42L450.35,23.13L452.61,23.99L454.50,24.80L456.20,25.64L457.71,26.49L459.21,27.44L460.72,28.53L462.04,29.62L462.61,30.24L463.36,31.24L466.57,35.99L467.51,37.51L468.27,38.94L469.02,40.66L469.77,42.85L470.53,45.48L471.28,48.48L473.17,57.07L473.92,61.11L474.68,65.67L475.81,73.17L477.69,86.46L479.20,100.44L479.58,102.74L479.77,103.43L479.96,103.74L480.14,103.66L480.33,103.29L480.71,101.85L481.09,99.68L482.41,90.53L483.92,81.99L484.86,76.95L486.93,66.89L488.25,60.85L489.38,56.17L490.33,52.77L491.27,49.95L492.59,46.71L494.10,43.58L495.79,40.63L497.49,38.13L499.57,35.61L503.90,31.00L505.79,28.61L506.54,27.75L507.30,27.12L508.81,26.39L510.50,25.71L512.39,25.11L514.27,24.62L516.35,24.20L520.50,23.58L527.47,22.99L530.30,22.66L532.56,22.17L537.47,20.75L539.73,20.22L541.24,20.01L546.52,19.60L549.35,19.50L551.23,19.54L553.12,19.73L557.45,20.34L559.53,20.49L575.18,20.50L578.38,20.43L583.47,20.11L590.26,19.47L591.96,19.22L595.73,18.48L597.43,18.21L604.22,17.38L606.48,17.19L608.55,17.11L610.06,17.11L611.57,17.22L618.17,18.11L621.00,18.30L623.45,18.15L629.11,17.29L631.56,17.10L649.66,17.30L677.00,17.40" fill="none" stroke="#0000FF" stroke-width="2.0" stroke-linejoin="round"/>
<path d="M394.35,15.28L398.05,21.68L390.65,21.68Z" fill="#0000FF"/>
<path d="M405.66,11.70L409.36,18.10L401.96,18.10Z" fill="#0000FF"/>
<path d="M416.96,11.90L420.66,18.30L413.26,18.30Z" fill="#0000FF"/>
<path d="M428.27,13.55L431.97,19.95L424.57,19.95Z" fill="#0000FF"/>
<path d="M439.57,15.70L443.27,22.10L435.87,22.10Z" fill="#0000FF"/>
<path d="M450.88,18.82L454.58,25.22L447.18,25.22Z" fill="#0000FF"/>
<path d="M462.19,25.26L465.89,31.66L458.49,31.66Z" fill="#0000FF"/>
<path d="M473.49,54.24L477.19,60.64L469.79,60.64Z" fill="#0000FF"/>
<path d="M484.80,72.75L488.50,79.15L481.10,79.15Z" fill="#0000FF"/>
<path d="M496.10,35.65L499.80,42.05L492.40,42.05Z" fill="#0000FF"/>
<path d="M507.41,22.55L511.11,28.95L503.71,28.95Z" fill="#0000FF"/>
<path d="M518.72,19.31L522.42,25.71L515.02,25.71Z" fill="#0000FF"/>
<path d="M530.02,18.20L533.72,24.60L526.32,24.60Z" fill="#0000FF"/>
<path d="M541.33,15.50L545.03,21.90L537.63,21.90Z" fill="#0000FF"/>
<path d="M552.63,15.17L556.33,21.57L548.93,21.57Z" fill="#0000FF"/>
<path d="M563.94,16.00L567.64,22.40L560.24,22.40Z" fill="#0000FF"/>
<path d="M575.25,16.00L578.95,22.40L571.55,22.40Z" fill="#0000FF"/>
<path d="M586.55,15.34L590.25,21.74L582.85,21.74Z" fill="#0000FF"/>
<path d="M597.86,13.66L601.56,20.06L594.16,20.06Z" fill="#0000FF"/>
<path d="M609.16,12.60L612.86,19.00L605.46,19.00Z" fill="#0000FF"/>
<path d="M620.47,13.79L624.17,20.19L616.77,20.19Z" fill="#0000FF"/>
<path d="M631.78,12.60L635.48,19.00L628.08,19.00Z" fill="#0000FF"/>
<path d="M643.08,12.72L646.78,19.12L639.38,19.12Z" fill="#0000FF"/>
<path d="M654.39,12.82L658.09,19.22L650.69,19.22Z" fill="#0000FF"/>
<path d="M665.69,12.88L669.39,19.28L661.99,19.28Z" fill="#0000FF"/>
<path d="M677.00,12.90L680.70,19.30L673.30,19.30Z" fill="#0000FF"/>
<path d="M394.35,23.01L395.67,23.36L396.99,23.63L399.82,23.96L402.08,24.07L405.29,24.10L407.17,23.95L409.43,23.43L411.89,22.57L417.17,20.22L418.86,19.10L419.43,18.80L421.50,18.24L425.09,17.60L431.68,16.80L436.59,16.30L443.75,15.69L446.20,15.53L449.41,15.42L456.57,15.30L470.90,15.74L473.92,15.92L474.49,16.15L475.24,16.83L476.37,18.41L478.45,22.03L479.39,23.51L480.52,24.96L483.16,28.09L484.67,30.18L486.18,32.79L487.69,35.94L488.82,38.62L490.14,42.05L491.27,45.24L492.21,48.19L493.15,51.44L494.10,55.01L495.98,63.22L496.55,66.20L497.11,70.12L497.68,76.64L499.00,98.45L500.89,127.77L501.64,143.53L501.83,146.13L502.02,146.99L502.21,145.95L502.39,143.49L503.34,125.97L506.92,75.66L507.30,71.84L507.86,67.72L508.62,63.24L509.37,59.58L510.88,53.56L512.39,48.31L513.52,45.18L514.08,43.98L514.65,43.04L515.59,41.75L516.54,40.68L518.80,38.50L523.32,33.93L526.53,30.96L529.17,28.84L532.94,26.20L534.64,25.08L536.33,24.12L537.84,23.46L539.16,23.08L541.05,22.79L544.25,22.41L547.08,22.18L549.53,22.10L551.42,22.15L557.45,22.85L559.53,22.99L575.93,22.99L578.57,22.90L581.40,22.72L595.73,21.48L598.94,21.41L603.08,21.54L609.68,21.93L611.76,22.13L617.42,22.83L619.11,22.96L620.62,23.00L621.75,22.91L623.07,22.64L624.58,22.20L628.73,20.79L630.05,20.47L631.37,20.31L634.39,20.37L641.55,20.88L644.76,21.00L648.34,20.94L658.71,20.51L677.00,20.50" fill="none" stroke="#FF00FF" stroke-width="2.0" stroke-linejoin="round"/>
<path d="M394.35,27.51L398.05,21.11L390.65,21.11Z" fill="#FF00FF"/>
<path d="M405.66,28.59L409.36,22.19L401.96,22.19Z" fill="#FF00FF"/>
<path d="M416.96,24.82L420.66,18.42L413.26,18.42Z" fill="#FF00FF"/>
<path d="M428.27,21.71L431.97,15.31L424.57,15.31Z" fill="#FF00FF"/>
<path d="M439.57,20.54L443.27,14.14L435.87,14.14Z" fill="#FF00FF"/>
<path d="M450.88,19.88L454.58,13.48L447.18,13.48Z" fill="#FF00FF"/>
<path d="M462.19,19.95L465.89,13.55L458.49,13.55Z" fill="#FF00FF"/>
<path d="M473.49,20.38L477.19,13.98L469.79,13.98Z" fill="#FF00FF"/>
<path d="M484.80,34.88L488.50,28.48L481.10,28.48Z" fill="#FF00FF"/>
<path d="M496.10,68.31L499.80,61.91L492.40,61.91Z" fill="#FF00FF"/>
<path d="M507.41,75.42L511.11,69.02L503.71,69.02Z" fill="#FF00FF"/>
<path d="M518.72,43.08L522.42,36.68L515.02,36.68Z" fill="#FF00FF"/>
<path d="M530.02,32.75L533.72,26.35L526.32,26.35Z" fill="#FF00FF"/>
<path d="M541.33,27.25L545.03,20.85L537.63,20.85Z" fill="#FF00FF"/>
<path d="M552.63,26.75L556.33,20.35L548.93,20.35Z" fill="#FF00FF"/>
<path d="M563.94,27.50L567.64,21.10L560.24,21.10Z" fill="#FF00FF"/>
<path d="M575.25,27.50L578.95,21.10L571.55,21.10Z" fill="#FF00FF"/>
<path d="M586.55,26.78L590.25,20.38L582.85,20.38Z" fill="#FF00FF"/>
<path d="M597.86,25.90L601.56,19.50L594.16,19.50Z" fill="#FF00FF"/>
<path d="M609.16,26.39L612.86,19.99L605.46,19.99Z" fill="#FF00FF"/>
<path d="M620.47,27.50L624.17,21.10L616.77,21.10Z" fill="#FF00FF"/>
<path d="M631.78,24.80L635.48,18.40L628.08,18.40Z" fill="#FF00FF"/>
<path d="M643.08,25.46L646.78,19.06L639.38,19.06Z" fill="#FF00FF"/>
<path d="M654.39,25.16L658.09,18.76L650.69,18.76Z" fill="#FF00FF"/>
<path d="M665.69,25.00L669.39,18.60L661.99,18.60Z" fill="#FF00FF"/>
<path d="M677.00,25.00L680.70,18.60L673.30,18.60Z" fill="#FF00FF"/>
<path d="M394.35,16.02L395.86,16.69L397.37,17.27L398.88,17.76L400.38,18.14L401.89,18.43L403.21,18.60L404.72,18.69L406.04,18.68L407.74,18.48L409.43,18.13L415.09,16.47L416.98,16.00L423.20,14.74L429.42,13.59L434.14,12.62L436.59,12.21L438.10,12.06L439.60,12.00L451.48,12.00L455.07,12.13L462.99,12.81L466.38,13.22L480.33,15.49L485.42,16.48L490.52,17.75L492.59,18.39L494.66,19.12L496.55,19.89L497.87,20.52L499.19,21.28L500.70,22.30L502.02,23.31L503.53,24.58L506.73,27.63L508.81,29.97L511.07,32.97L512.39,34.93L513.71,37.05L516.35,41.75L518.42,45.87L519.18,47.70L519.93,49.80L520.87,52.67L521.82,55.83L523.89,63.55L526.91,75.89L528.60,83.77L529.74,89.92L530.49,94.79L532.00,106.98L532.75,114.57L532.94,115.44L533.13,115.21L533.32,113.93L534.07,105.07L534.45,102.35L535.02,99.06L537.47,87.67L539.92,74.18L540.67,70.31L541.80,65.46L543.12,60.50L544.07,57.45L545.01,54.98L546.89,50.92L548.59,47.75L549.91,45.68L551.23,43.99L552.36,42.89L554.25,41.48L556.51,39.96L558.58,38.79L560.47,37.98L562.17,37.50L563.86,37.30L575.56,37.27L576.50,37.17L577.63,36.94L579.89,36.24L582.53,35.13L589.13,32.02L591.39,30.75L597.81,26.91L604.59,23.20L608.74,21.15L613.64,19.04L617.79,17.47L621.75,16.24L626.47,14.99L630.24,14.18L634.95,13.39L639.10,12.83L642.49,12.53L649.85,12.20L656.26,12.03L677.00,12.00" fill="none" stroke="#008000" stroke-width="2.0" stroke-linejoin="round"/>
<path d="M394.35,11.82L397.85,16.02L394.35,20.22L390.85,16.02Z" fill="#008000"/>
<path d="M405.66,14.49L409.16,18.69L405.66,22.89L402.16,18.69Z" fill="#008000"/>
<path d="M416.96,11.81L420.46,16.01L416.96,20.21L413.46,16.01Z" fill="#008000"/>
<path d="M428.27,9.61L431.77,13.81L428.27,18.01L424.77,13.81Z" fill="#008000"/>
<path d="M439.57,7.80L443.07,12.00L439.57,16.20L436.07,12.00Z" fill="#008000"/>
<path d="M450.88,7.80L454.38,12.00L450.88,16.20L447.38,12.00Z" fill="#008000"/>
<path d="M462.19,8.53L465.69,12.73L462.19,16.93L458.69,12.73Z" fill="#008000"/>
<path d="M473.49,10.18L476.99,14.38L473.49,18.58L469.99,14.38Z" fill="#008000"/>
<path d="M484.80,12.15L488.30,16.35L484.80,20.55L481.30,16.35Z" fill="#008000"/>
<path d="M496.10,15.50L499.60,19.70L496.10,23.90L492.60,19.70Z" fill="#008000"/>
<path d="M507.41,24.15L510.91,28.35L507.41,32.55L503.91,28.35Z" fill="#008000"/>
<path d="M518.72,42.35L522.22,46.55L518.72,50.75L515.22,46.55Z" fill="#008000"/>
<path d="M530.02,87.43L533.52,91.63L530.02,95.83L526.52,91.63Z" fill="#008000"/>
<path d="M541.33,63.18L544.83,67.38L541.33,71.58L537.83,67.38Z" fill="#008000"/>
<path d="M552.63,38.47L556.13,42.67L552.63,46.87L549.13,42.67Z" fill="#008000"/>
<path d="M563.94,33.10L567.44,37.30L563.94,41.50L560.44,37.30Z" fill="#008000"/>
<path d="M575.25,33.09L578.75,37.29L575.25,41.49L571.75,37.29Z" fill="#008000"/>
<path d="M586.55,29.03L590.05,33.23L586.55,37.43L583.05,33.23Z" fill="#008000"/>
<path d="M597.86,22.68L601.36,26.88L597.86,31.08L594.36,26.88Z" fill="#008000"/>
<path d="M609.16,16.76L612.66,20.96L609.16,25.16L605.66,20.96Z" fill="#008000"/>
<path d="M620.47,12.41L623.97,16.61L620.47,20.81L616.97,16.61Z" fill="#008000"/>
<path d="M631.78,9.70L635.28,13.90L631.78,18.10L628.28,13.90Z" fill="#008000"/>
<path d="M643.08,8.30L646.58,12.50L643.08,16.70L639.58,12.50Z" fill="#008000"/>
<path d="M654.39,7.87L657.89,12.07L654.39,16.27L650.89,12.07Z" fill="#008000"/>
<path d="M665.69,7.80L669.19,12.00L665.69,16.20L662.19,12.00Z" fill="#008000"/>
<path d="M677.00,7.80L680.50,12.00L677.00,16.20L673.50,12.00Z" fill="#008000"/>
<path d="M394.35,17.00L399.63,17.33L403.40,17.48L418.11,17.53L420.37,17.70L425.65,18.34L427.91,18.49L432.25,18.44L436.96,18.22L440.36,17.96L441.11,17.79L441.87,17.53L442.81,17.09L443.75,16.56L447.15,14.33L448.47,13.54L449.79,12.92L451.11,12.55L454.12,12.32L462.04,12.00L471.66,11.44L475.24,11.41L479.58,11.60L485.42,12.03L488.25,12.33L492.59,12.95L499.38,14.08L504.28,15.03L509.94,16.24L524.46,19.75L526.53,20.31L528.23,20.84L529.92,21.47L531.24,22.06L532.56,22.79L534.07,23.75L535.39,24.72L536.90,25.96L538.97,27.87L541.24,30.21L542.56,31.75L543.88,33.56L545.39,35.92L547.08,38.94L548.78,42.31L550.48,45.98L552.93,51.77L553.87,54.39L554.81,57.31L556.13,61.82L559.34,73.49L561.04,80.34L562.17,85.85L563.30,92.50L564.24,99.15L564.81,104.57L565.56,114.90L566.50,130.07L566.88,137.80L567.82,160.68L568.20,165.98L568.39,166.80L568.58,166.16L568.77,164.23L568.96,161.25L570.09,134.27L570.84,120.30L571.41,111.26L572.35,99.29L573.10,90.65L573.86,83.20L574.42,78.61L574.99,75.06L575.93,70.58L576.88,66.96L577.82,63.96L579.14,60.41L582.34,52.51L583.85,49.28L584.61,47.89L585.36,46.70L585.93,45.94L586.49,45.33L587.06,44.86L587.43,44.63L589.13,43.89L590.83,43.25L592.53,42.73L594.03,42.38L595.73,42.11L597.24,42.01L609.31,42.00L609.87,41.92L610.63,41.61L611.19,41.22L611.76,40.73L612.89,39.47L614.21,37.66L617.04,33.30L618.36,31.40L619.68,29.82L621.38,28.24L623.45,26.42L625.33,24.88L627.41,23.28L629.29,21.94L635.71,17.82L637.21,16.99L638.53,16.41L639.85,16.03L642.68,15.57L645.89,15.19L649.66,14.86L658.71,14.21L663.80,13.91L670.97,13.64L677.00,13.50" fill="none" stroke="#000080" stroke-width="2.0" stroke-linejoin="round"/>
<path d="M389.85,17.00L396.25,13.30L396.25,20.70Z" fill="#000080"/>
<path d="M401.16,17.50L407.56,13.80L407.56,21.20Z" fill="#000080"/>
<path d="M412.46,17.50L418.86,13.80L418.86,21.20Z" fill="#000080"/>
<path d="M423.77,18.50L430.17,14.80L430.17,22.20Z" fill="#000080"/>
<path d="M435.07,18.03L441.47,14.33L441.47,21.73Z" fill="#000080"/>
<path d="M446.38,12.59L452.78,8.89L452.78,16.29Z" fill="#000080"/>
<path d="M457.69,11.99L464.09,8.29L464.09,15.69Z" fill="#000080"/>
<path d="M468.99,11.40L475.39,7.70L475.39,15.10Z" fill="#000080"/>
<path d="M480.30,11.98L486.70,8.28L486.70,15.68Z" fill="#000080"/>
<path d="M491.60,13.52L498.00,9.82L498.00,17.22Z" fill="#000080"/>
<path d="M502.91,15.68L509.31,11.98L509.31,19.38Z" fill="#000080"/>
<path d="M514.22,18.38L520.62,14.68L520.62,22.08Z" fill="#000080"/>
<path d="M525.52,21.51L531.92,17.81L531.92,25.21Z" fill="#000080"/>
<path d="M536.83,30.31L543.23,26.61L543.23,34.01Z" fill="#000080"/>
<path d="M548.13,51.03L554.53,47.33L554.53,54.73Z" fill="#000080"/>
<path d="M559.44,96.90L565.84,93.20L565.84,100.60Z" fill="#000080"/>
<path d="M570.75,73.74L577.15,70.04L577.15,77.44Z" fill="#000080"/>
<path d="M582.05,45.27L588.45,41.57L588.45,48.97Z" fill="#000080"/>
<path d="M593.36,42.00L599.76,38.30L599.76,45.70Z" fill="#000080"/>
<path d="M604.66,42.00L611.06,38.30L611.06,45.70Z" fill="#000080"/>
<path d="M615.97,29.06L622.37,25.36L622.37,32.76Z" fill="#000080"/>
<path d="M627.28,20.31L633.68,16.61L633.68,24.01Z" fill="#000080"/>
<path d="M638.58,15.52L644.98,11.82L644.98,19.22Z" fill="#000080"/>
<path d="M649.89,14.52L656.29,10.82L656.29,18.22Z" fill="#000080"/>
<path d="M661.19,13.82L667.59,10.12L667.59,17.52Z" fill="#000080"/>
<path d="M672.50,13.50L678.90,9.80L678.90,17.20Z" fill="#000080"/>
<path d="M394.35,11.20L416.22,11.20L417.92,11.26L419.99,11.42L426.78,12.23L436.40,13.08L440.92,13.63L444.32,14.23L451.11,15.63L456.57,17.07L458.46,17.51L460.16,17.78L461.85,17.90L463.55,17.81L465.63,17.46L467.51,16.97L472.98,15.39L481.09,13.69L490.89,11.99L492.97,11.70L494.85,11.54L496.74,11.50L498.62,11.60L505.03,12.32L507.30,12.49L513.14,12.66L528.42,12.95L535.96,13.21L540.48,13.45L545.20,13.87L547.08,14.11L547.65,14.27L548.78,14.90L551.42,17.00L552.55,17.73L555.00,18.82L561.04,21.05L562.73,21.85L564.43,22.83L566.13,23.99L567.82,25.32L569.71,26.95L571.60,28.73L573.86,31.01L575.74,33.03L577.25,34.80L578.95,36.96L580.65,39.31L582.53,42.11L586.11,47.84L587.25,49.76L588.19,51.58L588.94,53.27L589.70,55.23L590.45,57.55L591.21,60.43L591.96,63.91L592.71,67.98L593.47,72.64L594.98,83.74L596.49,97.26L597.05,104.43L597.81,116.89L597.99,120.55L598.56,136.43L598.75,140.05L598.94,141.08L599.13,140.21L599.31,138.30L600.45,118.75L601.58,104.22L601.95,100.40L602.52,95.83L603.65,88.21L604.40,84.13L605.16,80.73L606.29,76.33L607.42,72.60L608.36,70.00L609.12,68.27L610.63,65.37L612.14,62.78L613.83,60.19L615.72,57.72L617.60,55.66L619.49,53.99L621.00,52.93L622.51,52.09L624.01,51.41L627.41,50.03L629.29,49.09L630.99,47.98L632.31,46.82L633.63,45.39L635.14,43.51L640.61,35.81L642.68,33.13L649.66,25.06L651.36,23.34L653.05,21.89L654.18,21.13L655.13,20.64L656.82,19.94L658.71,19.30L671.15,15.97L677.00,14.50" fill="none" stroke="#8000FF" stroke-width="2.0" stroke-linejoin="round"/>
<path d="M398.85,11.20L392.45,7.50L392.45,14.90Z" fill="#8000FF"/>
<path d="M410.16,11.20L403.76,7.50L403.76,14.90Z" fill="#8000FF"/>
<path d="M421.46,11.21L415.06,7.51L415.06,14.91Z" fill="#8000FF"/>
<path d="M432.77,12.37L426.37,8.67L426.37,16.07Z" fill="#8000FF"/>
<path d="M444.07,13.43L437.67,9.73L437.67,17.13Z" fill="#8000FF"/>
<path d="M455.38,15.58L448.98,11.88L448.98,19.28Z" fill="#8000FF"/>
<path d="M466.69,17.90L460.29,14.20L460.29,21.60Z" fill="#8000FF"/>
<path d="M477.99,15.27L471.59,11.57L471.59,18.97Z" fill="#8000FF"/>
<path d="M489.30,13.03L482.90,9.33L482.90,16.73Z" fill="#8000FF"/>
<path d="M500.60,11.50L494.20,7.80L494.20,15.20Z" fill="#8000FF"/>
<path d="M511.91,12.50L505.51,8.80L505.51,16.20Z" fill="#8000FF"/>
<path d="M523.22,12.76L516.82,9.06L516.82,16.46Z" fill="#8000FF"/>
<path d="M534.52,13.00L528.12,9.30L528.12,16.70Z" fill="#8000FF"/>
<path d="M545.83,13.51L539.43,9.81L539.43,17.21Z" fill="#8000FF"/>
<path d="M557.13,17.77L550.73,14.07L550.73,21.47Z" fill="#8000FF"/>
<path d="M568.44,22.53L562.04,18.83L562.04,26.23Z" fill="#8000FF"/>
<path d="M579.75,32.48L573.35,28.78L573.35,36.18Z" fill="#8000FF"/>
<path d="M591.05,48.56L584.65,44.86L584.65,52.26Z" fill="#8000FF"/>
<path d="M602.36,117.84L595.96,114.14L595.96,121.54Z" fill="#8000FF"/>
<path d="M613.66,68.18L607.26,64.48L607.26,71.88Z" fill="#8000FF"/>
<path d="M624.97,53.27L618.57,49.57L618.57,56.97Z" fill="#8000FF"/>
<path d="M636.28,47.33L629.88,43.63L629.88,51.03Z" fill="#8000FF"/>
<path d="M647.58,32.66L641.18,28.96L641.18,36.36Z" fill="#8000FF"/>
<path d="M658.89,21.01L652.49,17.31L652.49,24.71Z" fill="#8000FF"/>
<path d="M670.19,17.46L663.79,13.76L663.79,21.16Z" fill="#8000FF"/>
<path d="M681.50,14.50L675.10,10.80L675.10,18.20Z" fill="#8000FF"/>
<path d="M394.35,12.50L400.20,12.60L407.17,12.91L416.79,13.88L426.78,14.64L431.12,15.19L436.02,16.14L442.06,17.57L451.86,20.54L456.57,22.31L458.27,22.88L459.97,23.30L461.67,23.49L462.42,23.49L463.36,23.36L465.06,22.86L466.95,21.99L471.28,19.55L473.17,18.64L477.32,17.21L482.03,15.79L490.33,13.57L493.53,12.86L496.17,12.51L502.39,12.12L507.11,12.00L531.43,12.01L535.20,12.16L553.49,13.16L560.28,13.66L565.18,14.15L574.80,15.67L582.72,16.49L585.17,16.80L587.43,17.20L589.70,17.79L592.53,18.77L595.73,20.16L598.56,21.61L600.45,22.91L601.76,24.01L603.08,25.22L607.80,29.89L610.44,32.38L616.66,38.81L618.17,40.16L619.68,41.29L621.00,42.05L622.69,42.73L624.20,43.16L627.79,44.02L629.67,44.64L630.61,45.06L631.56,45.57L631.93,45.84L632.50,46.42L633.07,47.18L633.63,48.12L634.95,50.84L636.27,54.09L638.91,61.13L639.85,63.97L641.93,71.05L643.25,75.25L645.13,82.01L646.08,85.09L646.64,86.60L647.21,87.74L647.77,88.43L648.15,88.60L648.34,88.57L648.53,88.46L648.72,88.26L649.09,87.62L649.47,86.69L650.04,84.83L650.98,80.80L653.24,69.55L653.81,67.08L654.37,65.00L655.88,60.55L657.58,55.96L659.46,51.31L661.35,47.04L663.24,43.06L664.56,40.51L665.69,38.62L667.38,36.17L669.46,33.48L671.72,30.84L674.55,27.85L676.06,26.34L677.00,25.50" fill="none" stroke="#800080" stroke-width="2.0" stroke-linejoin="round"/>
<circle cx="394.35" cy="12.50" r="3.10" fill="#800080"/>
<circle cx="405.66" cy="12.82" r="3.10" fill="#800080"/>
<circle cx="416.96" cy="13.90" r="3.10" fill="#800080"/>
<circle cx="428.27" cy="14.80" r="3.10" fill="#800080"/>
<circle cx="439.57" cy="16.95" r="3.10" fill="#800080"/>
<circle cx="450.88" cy="20.24" r="3.10" fill="#800080"/>
<circle cx="462.19" cy="23.50" r="3.10" fill="#800080"/>
<circle cx="473.49" cy="18.51" r="3.10" fill="#800080"/>
<circle cx="484.80" cy="15.05" r="3.10" fill="#800080"/>
<circle cx="496.10" cy="12.52" r="3.10" fill="#800080"/>
<circle cx="507.41" cy="12.00" r="3.10" fill="#800080"/>
<circle cx="518.72" cy="12.00" r="3.10" fill="#800080"/>
<circle cx="530.02" cy="12.00" r="3.10" fill="#800080"/>
<circle cx="541.33" cy="12.50" r="3.10" fill="#800080"/>
<circle cx="552.63" cy="13.11" r="3.10" fill="#800080"/>
<circle cx="563.94" cy="14.00" r="3.10" fill="#800080"/>
<circle cx="575.25" cy="15.73" r="3.10" fill="#800080"/>
<circle cx="586.55" cy="17.03" r="3.10" fill="#800080"/>
<circle cx="597.86" cy="21.23" r="3.10" fill="#800080"/>
<circle cx="609.16" cy="31.18" r="3.10" fill="#800080"/>
<circle cx="620.47" cy="41.78" r="3.10" fill="#800080"/>
<circle cx="631.78" cy="45.72" r="3.10" fill="#800080"/>
<circle cx="643.08" cy="74.70" r="3.10" fill="#800080"/>
<circle cx="654.39" cy="64.95" r="3.10" fill="#800080"/>
<circle cx="665.69" cy="38.61" r="3.10" fill="#800080"/>
<circle cx="677.00" cy="25.50" r="3.10" fill="#800080"/></g>
<line x1="54" y1="179.1" x2="87" y2="179.1" stroke="#008000" stroke-width="2.0"/><path d="M70.60,174.90L74.10,179.10L70.60,183.30L67.10,179.10Z" fill="#008000"/><text x="90.3" y="183.70" font-size="14">S1,1</text>
<line x1="117.6" y1="179.1" x2="150.1" y2="179.1" stroke="#000080" stroke-width="2.0"/><path d="M129.60,179.10L136.00,175.40L136.00,182.80Z" fill="#000080"/><text x="153.3" y="183.70" font-size="14">S3,3</text>
<line x1="195.1" y1="177.5" x2="227.2" y2="177.5" stroke="#000000" stroke-width="2.0"/><rect x="208.90" y="174.60" width="5.80" height="5.80" fill="#000000"/><text x="230.6" y="182.10" font-size="14">S2,2</text>
<line x1="258.9" y1="177.5" x2="291.4" y2="177.5" stroke="#FF0000" stroke-width="2.0"/><circle cx="275.00" cy="177.50" r="3.10" fill="#FF0000"/><text x="294.2" y="182.10" font-size="14">S4,4</text>
<line x1="54" y1="196.2" x2="87" y2="196.2" stroke="#8000FF" stroke-width="2.0"/><path d="M75.10,196.20L68.70,192.50L68.70,199.90Z" fill="#8000FF"/><text x="90.3" y="200.80" font-size="14">S5,5</text>
<line x1="117.6" y1="196.2" x2="150.1" y2="196.2" stroke="#800080" stroke-width="2.0"/><circle cx="134.10" cy="196.20" r="3.10" fill="#800080"/><text x="153.3" y="200.80" font-size="14">S7,7</text>
<line x1="195.1" y1="194.7" x2="227.2" y2="194.7" stroke="#0000FF" stroke-width="2.0"/><path d="M211.80,190.20L215.50,196.60L208.10,196.60Z" fill="#0000FF"/><text x="230.6" y="199.30" font-size="14">S6,6</text>
<line x1="258.9" y1="194.7" x2="291.4" y2="194.7" stroke="#FF00FF" stroke-width="2.0"/><path d="M275.00,199.20L278.70,192.80L271.30,192.80Z" fill="#FF00FF"/><text x="294.2" y="199.30" font-size="14">S8,8</text>
<line x1="405.3" y1="150.8" x2="437" y2="150.8" stroke="#000000" stroke-width="2.0"/><rect x="418.60" y="147.90" width="5.80" height="5.80" fill="#000000"/><text x="440.0" y="155.40" font-size="14">S9,9</text>
<line x1="405.3" y1="168.0" x2="437" y2="168.0" stroke="#FF0000" stroke-width="2.0"/><circle cx="421.50" cy="168.00" r="3.10" fill="#FF0000"/><text x="440.0" y="172.60" font-size="14">S11,11</text>
<line x1="405.3" y1="185.3" x2="437" y2="185.3" stroke="#0000FF" stroke-width="2.0"/><path d="M421.50,180.80L425.20,187.20L417.80,187.20Z" fill="#0000FF"/><text x="440.0" y="189.90" font-size="14">S13,13</text>
<line x1="405.3" y1="202.3" x2="437" y2="202.3" stroke="#FF00FF" stroke-width="2.0"/><path d="M421.50,206.80L425.20,200.40L417.80,200.40Z" fill="#FF00FF"/><text x="440.0" y="206.90" font-size="14">S15,15</text>
<line x1="586.3" y1="152.0" x2="618" y2="152.0" stroke="#008000" stroke-width="2.0"/><path d="M602.50,147.80L606.00,152.00L602.50,156.20L599.00,152.00Z" fill="#008000"/><text x="621.0" y="156.60" font-size="14">S10,10</text>
<line x1="586.3" y1="169.3" x2="618" y2="169.3" stroke="#000080" stroke-width="2.0"/><path d="M598.00,169.30L604.40,165.60L604.40,173.00Z" fill="#000080"/><text x="621.0" y="173.90" font-size="14">S12,12</text>
<line x1="586.3" y1="186.4" x2="618" y2="186.4" stroke="#8000FF" stroke-width="2.0"/><path d="M607.00,186.40L600.60,182.70L600.60,190.10Z" fill="#8000FF"/><text x="621.0" y="191.00" font-size="14">S14,14</text>
<line x1="586.3" y1="203.4" x2="618" y2="203.4" stroke="#800080" stroke-width="2.0"/><circle cx="602.50" cy="203.40" r="3.10" fill="#800080"/><text x="621.0" y="208.00" font-size="14">S16,16</text>
</svg></body></html>
